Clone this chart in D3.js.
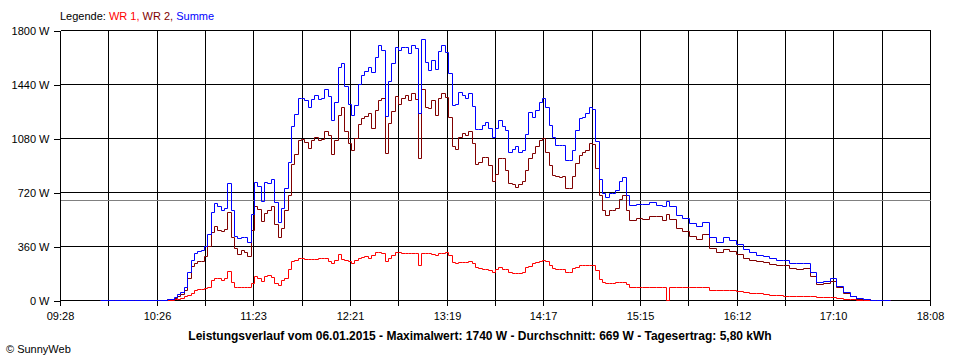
<!DOCTYPE html>
<html><head><meta charset="utf-8">
<script src="https://cdn.jsdelivr.net/npm/d3@7"></script>
<style>
body{margin:0;background:#fff}
svg{display:block}
text{font-family:"Liberation Sans",Arial,sans-serif;font-size:11px}
</style>
</head><body>
<svg id="c" width="960" height="360"></svg>
<script>
// ---- data ----
const times = ["09:52","09:56","10:00","10:04","10:08","10:12","10:16","10:20","10:24","10:28",
"10:32","10:36","10:38","10:40","10:42","10:44","10:46","10:48","10:50","10:52",
"10:54","10:56","10:58","11:00","11:02","11:04","11:06","11:08","11:10","11:12",
"11:14","11:16","11:18","11:20","11:22","11:24","11:26","11:28","11:30","11:32",
"11:34","11:36","11:38","11:40","11:42","11:44","11:46","11:48","11:50","11:52",
"11:54","11:56","11:58","12:00","12:02","12:04","12:06","12:08","12:10","12:12",
"12:14","12:16","12:18","12:20","12:22","12:24","12:26","12:28","12:30","12:32",
"12:34","12:36","12:38","12:40","12:42","12:44","12:46","12:48","12:50","12:52",
"12:54","12:56","12:58","13:00","13:02","13:04","13:06","13:08","13:10","13:12",
"13:14","13:16","13:18","13:20","13:22","13:24","13:26","13:28","13:30","13:32",
"13:34","13:36","13:38","13:40","13:42","13:44","13:46","13:48","13:50","13:52",
"13:54","13:56","13:58","14:00","14:02","14:04","14:06","14:08","14:10","14:12",
"14:14","14:16","14:18","14:20","14:22","14:24","14:26","14:28","14:30","14:32",
"14:34","14:36","14:38","14:40","14:42","14:44","14:46","14:48","14:50","14:52",
"14:54","14:56","14:58","15:00","15:02","15:04","15:06","15:08","15:12","15:16",
"15:20","15:24","15:28","15:30","15:32","15:36","15:40","15:44","15:48","15:52",
"15:56","16:00","16:04","16:08","16:12","16:16","16:20","16:24","16:28","16:32",
"16:36","16:40","16:44","16:48","16:52","16:56","17:00","17:04","17:08","17:12",
"17:16","17:20","17:24","17:28","17:32","17:36","17:40","17:44"];
const wr1 = [0,0,0,0,0,0,0,0,0,0,
0,8,10,15,25,35,47,70,71,73,
80,85,133,148,145,135,150,195,120,88,
88,89,89,89,115,162,150,128,160,170,
155,115,100,133,147,205,260,268,280,280,
273,273,271,275,277,277,277,260,245,265,
305,275,265,260,245,265,280,289,293,283,
300,318,320,315,260,280,300,320,320,315,
313,313,313,315,235,313,313,313,305,300,
315,315,320,300,253,245,255,253,253,258,
250,218,211,207,207,200,189,210,220,210,
207,190,180,177,180,190,217,225,245,255,
260,267,260,235,211,207,207,208,189,185,
213,222,233,233,233,233,233,200,140,120,
115,115,115,117,122,123,107,89,87,85,
85,85,87,0,89,85,85,88,88,87,
67,67,67,67,60,52,47,44,38,35,
33,30,30,30,28,25,18,17,17,11,
8,5,2,0,0,0,0,0];
const wr2 = [0,0,0,0,0,0,0,0,0,0,
5,14,27,40,65,150,230,250,258,262,
293,360,453,495,468,462,475,588,420,345,
305,333,320,295,470,630,610,525,580,600,
630,510,420,480,600,700,905,975,1067,1075,
1055,1015,1067,1090,1065,1075,1127,1100,975,1065,
1235,1290,1127,1050,1000,1080,1175,1210,1225,1245,
1150,1265,1335,1350,980,1180,1260,1360,1310,1350,
1365,1330,1380,1340,950,1410,1290,1278,1330,1235,
1345,1380,1355,1222,1027,1010,1087,1115,1100,1125,
1045,910,920,955,955,900,795,840,947,945,
867,780,775,755,775,795,867,945,980,1025,
1067,1080,987,900,833,825,822,828,747,745,
827,913,967,985,1000,1050,1040,880,700,598,
567,598,600,613,673,700,600,535,545,540,
560,560,535,575,540,478,457,425,405,440,
350,322,343,327,307,277,266,257,252,240,
232,232,212,210,211,162,104,113,125,84,
45,25,10,4,2,2,2,0];
const summe = [0,0,0,0,0,0,0,0,0,0,
5,22,40,55,87,185,267,315,327,335,
360,440,587,645,625,600,615,780,600,430,
415,422,420,385,575,790,760,660,790,780,
805,650,520,613,750,920,1160,1240,1350,1350,
1330,1290,1340,1365,1340,1350,1410,1360,1200,1320,
1550,1580,1430,1310,1235,1300,1440,1500,1530,1550,
1520,1620,1700,1665,1230,1460,1580,1690,1665,1690,
1690,1650,1700,1680,1250,1740,1590,1535,1600,1540,
1660,1700,1655,1515,1300,1310,1385,1365,1345,1380,
1295,1140,1140,1165,1185,1150,1085,1150,1200,1160,
1133,990,1010,1025,985,1000,1110,1255,1222,1265,
1320,1350,1287,1170,1090,1035,1033,1033,933,935,
1000,1133,1213,1220,1247,1290,1275,1060,810,715,
687,712,713,733,793,820,700,633,637,640,
655,635,625,660,630,567,545,515,495,520,
420,389,417,397,373,343,320,303,295,280,
270,268,245,250,245,187,122,130,145,95,
52,30,12,5,2,2,2,0];
const yTicks = [0,360,720,1080,1440,1800];
const xTickLabels = ["09:28","10:26","11:23","12:21","13:19","14:17","15:15","16:12","17:10","18:08"];
const average = 669;
const legendItems = [{name:"WR 1",color:"#ff0000"},{name:"WR 2",color:"#800000"},{name:"Summe",color:"#0000ff"}];
const titleText = "Leistungsverlauf vom 06.01.2015 - Maximalwert: 1740 W - Durchschnitt: 669 W - Tagesertrag: 5,80 kWh";

// ---- drawing ----
const toMin = s => { const p = s.split(":").map(Number); return p[0]*60 + p[1]; };
const L = 60.5, R = 930.5, T = 30.5, B = 300.5;
const x = d3.scaleLinear().domain([toMin(xTickLabels[0]), toMin(xTickLabels[xTickLabels.length-1])]).range([L, R]);
const y = d3.scaleLinear().domain([0, 1800]).range([B, T]);
const nGrid = (xTickLabels.length - 1) * 2;
const g = d3.scaleLinear().domain([0, nGrid]).range([L, R]);
const snap = v => Math.round(v - 0.5) + 0.5;

const svg = d3.select("#c");
svg.append("rect").attr("width",960).attr("height",360).attr("fill","#fff");

// grid
const grid = svg.append("g").attr("shape-rendering","crispEdges");
grid.selectAll("line.h").data(yTicks).join("line").attr("class","h")
  .attr("x1", L).attr("x2", R).attr("y1", d => y(d)).attr("y2", d => y(d)).attr("stroke","#000");
grid.selectAll("line.v").data(d3.range(nGrid + 1)).join("line").attr("class","v")
  .attr("x1", d => snap(g(d))).attr("x2", d => snap(g(d)))
  .attr("y1", T).attr("y2", B).attr("stroke","#000");

// axes
const ya = svg.append("g").attr("transform", `translate(${L},0)`)
  .call(d3.axisLeft(y).tickValues(yTicks).tickSize(7).tickPadding(4).tickFormat(d => d + " W"));
const xa = svg.append("g").attr("transform", `translate(0,${B})`)
  .call(d3.axisBottom(g).tickValues(d3.range(nGrid + 1)).tickSize(5).tickPadding(7)
    .tickFormat(i => i % 2 ? "" : xTickLabels[i / 2]));
[ya, xa].forEach(a => {
  a.select(".domain").remove();
  a.attr("font-family", null).attr("font-size", null);
  a.selectAll("line").attr("stroke", "#000").attr("shape-rendering", "crispEdges");
  a.selectAll("text").attr("fill", "#000");
});
xa.selectAll(".tick").attr("transform", d => `translate(${snap(g(d))},0)`);

// average line
svg.append("line").attr("x1", L).attr("x2", R).attr("y1", snap(y(average))).attr("y2", snap(y(average)))
  .attr("stroke", "#808080").attr("shape-rendering", "crispEdges");

// series
const line = d3.line().x(d => snap(x(d.t))).y(d => snap(y(d.v))).curve(d3.curveStepAfter);
const series = [wr1, wr2, summe];
series.forEach((vals, k) => {
  const pts = times.map((t, i) => ({t: toMin(t), v: vals[i]}));
  svg.append("path").datum(pts).attr("d", line)
    .style("fill", "none").style("stroke", legendItems[k].color).style("stroke-width", "1px");
});

// legend
const lg = svg.append("text").attr("x", 60).attr("y", 20);
lg.append("tspan").attr("fill", "#000").text("Legende: ");
legendItems.forEach((it, i) => {
  lg.append("tspan").attr("fill", it.color).text(it.name + (i < legendItems.length - 1 ? ", " : ""));
});

// title and footer
svg.append("text").attr("x", 480).attr("y", 340).attr("text-anchor", "middle")
  .attr("font-weight", "bold").style("font-size", "12px").attr("fill", "#000").text(titleText);
svg.append("text").attr("x", 6).attr("y", 353).attr("fill", "#000").text("© SunnyWeb");
</script>
</body></html>
